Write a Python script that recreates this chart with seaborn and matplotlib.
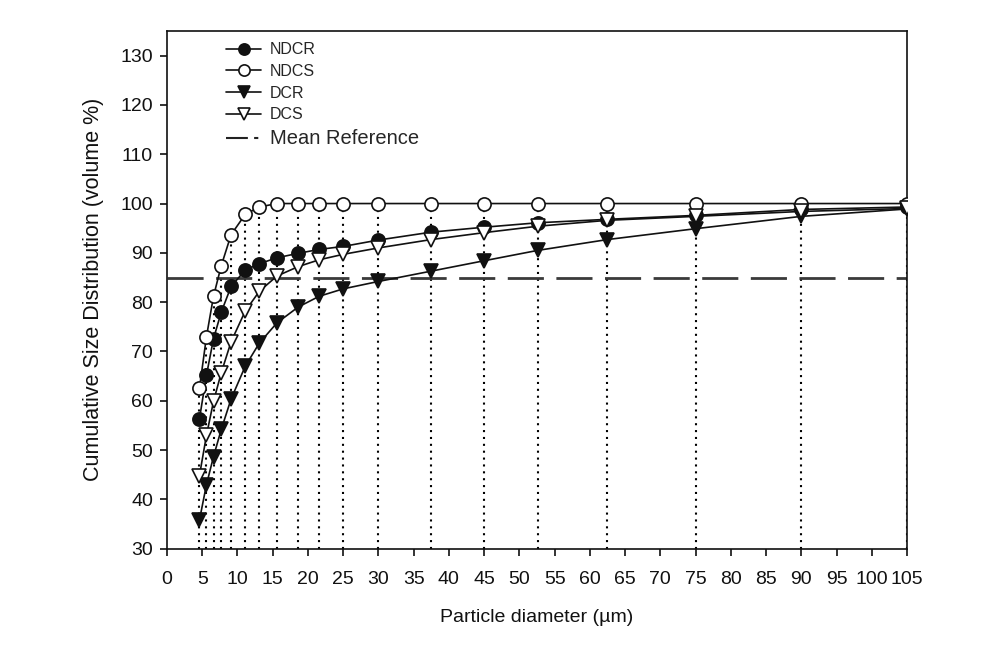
import matplotlib
matplotlib.use("Agg")
import matplotlib.pyplot as plt
from matplotlib.lines import Line2D
import seaborn as sns
import pandas as pd

# ---- data ----
diameter = [4.6, 5.6, 6.6, 7.7, 9.1, 11.1, 13.1, 15.6, 18.6, 21.6,
            25, 30, 37.5, 45, 52.6, 62.5, 75, 90, 105]
ndcr = [56.3, 65.2, 72.6, 78.0, 83.2, 86.5, 87.8, 89.0, 89.9, 90.7,
        91.3, 92.6, 94.2, 95.2, 96.1, 96.8, 97.6, 98.8, 99.3]
ndcs = [62.5, 73.0, 81.2, 87.4, 93.7, 97.8, 99.3, 100, 100, 100,
        100, 100, 100, 100, 100, 100, 100, 100, 100]
dcr = [35.8, 43.0, 48.7, 54.2, 60.4, 67.0, 71.7, 75.8, 79.0, 81.2,
       82.7, 84.2, 86.3, 88.4, 90.5, 92.7, 94.9, 97.4, 98.9]
dcs = [44.8, 53.0, 59.9, 65.7, 72.0, 78.2, 82.2, 85.3, 87.2, 88.6,
       89.7, 91.0, 92.7, 94.1, 95.4, 96.6, 97.4, 98.4, 99.0]
mean_reference = 85
series_names = ["NDCR", "NDCS", "DCR", "DCS"]
x_ticks = list(range(0, 106, 5))
y_ticks = list(range(30, 131, 10))

sns.set_theme(style="ticks")
plt.rcParams["font.family"] = ["Liberation Sans", "DejaVu Sans"]

fig = plt.figure(figsize=(10, 6.58), dpi=100)
ax = fig.add_axes([0.167, 0.166, 0.740, 0.787])

df = pd.DataFrame({"x": diameter, "NDCR": ndcr, "NDCS": ndcs, "DCR": dcr, "DCS": dcs})

# vertical dotted guide lines up to the top curve
ax.vlines(df["x"], 30, df["NDCS"], colors="black", linestyles=(0, (1, 2.3)),
          linewidth=1.5, zorder=1)

# mean reference line
ax.axhline(mean_reference, color="#3a3a3a", linewidth=2.0,
           dashes=(13, 4.5), zorder=1.5)

styles = {
    "NDCR": dict(marker="o", mfc="#111111"),
    "NDCS": dict(marker="o", mfc="white"),
    "DCR": dict(marker="v", mfc="#111111"),
    "DCS": dict(marker="v", mfc="white"),
}
for name in series_names:
    st = styles[name]
    sns.lineplot(data=df, x="x", y=name, ax=ax, color="#111111", linewidth=1.2,
                 marker=st["marker"], markersize=9.5 if st["marker"] == "o" else 9.5,
                 markerfacecolor=st["mfc"], markeredgecolor="#111111",
                 markeredgewidth=1.2, label=name, zorder=3)

ax.set_xlim(0, 105)
ax.set_ylim(30, 135)
ax.set_xticks(x_ticks)
ax.set_yticks(y_ticks)
ax.tick_params(axis="both", direction="out", length=5, width=1.2, labelsize=14,
               colors="#111111")
ax.tick_params(axis="x", pad=11)
ax.tick_params(axis="y", pad=5)
for s in ax.spines.values():
    s.set_visible(True)
    s.set_color("#111111")
    s.set_linewidth(1.2)

ax.set_xlabel("Particle diameter (\u00b5m)", fontsize=14, labelpad=15, color="#111111")
ax.set_ylabel("Cumulative Size Distribution (volume %)", fontsize=15.5, labelpad=12,
              color="#111111")

handles, labels = ax.get_legend_handles_labels()
order = [labels.index(n) for n in series_names]
mean_proxy = Line2D([], [], color="#222222", linewidth=1.5, dashes=(10.5, 3, 2, 3))
leg = ax.legend([handles[i] for i in order] + [mean_proxy],
                [labels[i] for i in order] + ["Mean Reference"],
                loc="upper left", bbox_to_anchor=(0.065, 1.0), frameon=False,
                fontsize=11.5, handlelength=2.2, handletextpad=0.55,
                labelspacing=0.42, borderaxespad=0.3, markerscale=0.85)
leg.get_texts()[4].set_fontsize(14.5)

fig.savefig("out.png", dpi=100, facecolor="white")
